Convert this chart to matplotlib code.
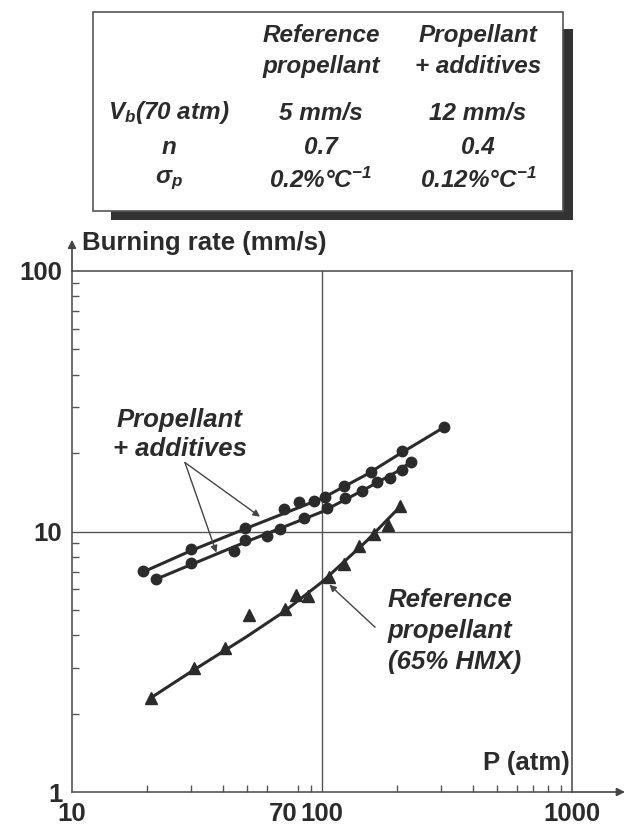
import numpy as np
import matplotlib
matplotlib.use('Agg')
import matplotlib.pyplot as plt
from matplotlib.patches import Rectangle

# ---- data ----
# propellant + additives, upper series (P atm, rate mm/s)
p_add1 = [19.3, 29.8, 49.3, 70.3, 81.1, 92.5, 102.8, 122, 157, 208, 307]
v_add1 = [7.04, 8.57, 10.3, 12.2, 13.0, 13.1, 13.6, 14.9, 16.9, 20.3, 25.1]
# propellant + additives, lower series
p_add2 = [21.7, 30, 44.4, 49.3, 60, 67.8, 84.5, 105, 124, 144, 166, 187, 208, 227]
v_add2 = [6.56, 7.54, 8.42, 9.29, 9.65, 10.2, 11.3, 12.3, 13.4, 14.3, 15.5, 16.1, 17.2, 18.5]
# reference propellant (65% HMX)
p_ref = [20.7, 30.8, 41.0, 51.1, 71.0, 78.5, 87.5, 107, 122, 141, 161, 184, 206]
v_ref = [2.30, 2.98, 3.56, 4.79, 5.02, 5.69, 5.65, 6.70, 7.48, 8.83, 9.77, 10.6, 12.5]

# hand drawn fit curves
fit1_p = [19.3, 30, 50, 100, 150, 200, 307]
fit1_v = [7.0, 8.45, 10.3, 13.4, 16.5, 19.6, 25.1]
fit2_p = [21.7, 30, 50, 100, 150, 200, 227]
fit2_v = [6.56, 7.47, 9.15, 11.9, 14.6, 17.0, 18.5]
fitr_p = [20.7, 30, 50, 70, 100, 150, 206]
fitr_v = [2.30, 2.90, 3.95, 4.9, 6.4, 9.15, 12.5]

# table
col_heads = ['Reference\npropellant', 'Propellant\n+ additives']
row_names = [r'$V_b$(70 atm)', 'n', r'$\sigma_p$']
ref_vals = ['5 mm/s', '0.7', r'0.2%°C$^{-1}$']
add_vals = ['12 mm/s', '0.4', r'0.12%°C$^{-1}$']

x_ticks = [10, 70, 100, 1000]
y_ticks = [1, 10, 100]

ink = '#2b2b2b'
plt.rcParams['font.family'] = ['Liberation Sans', 'DejaVu Sans']
plt.rcParams['mathtext.fontset'] = 'custom'
plt.rcParams['mathtext.it'] = 'Liberation Sans:italic:bold'
plt.rcParams['mathtext.rm'] = 'Liberation Sans:italic:bold'
plt.rcParams['mathtext.bf'] = 'Liberation Sans:italic:bold'

W, H = 629, 826
fig = plt.figure(figsize=(W / 100, H / 100), dpi=100)

# ---- table panel (pixel coords) ----
tb = fig.add_axes([0, 1 - 230 / H, 1, 230 / H])
tb.set_xlim(0, W)
tb.set_ylim(230, 0)
tb.axis('off')
tb.add_patch(Rectangle((111, 29), 462, 191, facecolor='#333333', edgecolor='none'))
tb.add_patch(Rectangle((93, 12), 470, 199, facecolor='white', edgecolor='#555555', lw=1.2))
tfont = dict(fontsize=17.5, fontweight='bold', style='italic', color=ink)
col_x = [321, 478]
for cx, head in zip(col_x, col_heads):
    tb.text(cx, 51, head, ha='center', va='center', linespacing=1.45, **tfont)
rows_y = [113, 147, 180]
for ry, name, a, b in zip(rows_y, row_names, ref_vals, add_vals):
    tb.text(169, ry, name, ha='center', va='center', **tfont)
    tb.text(col_x[0], ry, a, ha='center', va='center', **tfont)
    tb.text(col_x[1], ry, b, ha='center', va='center', **tfont)

# ---- log-log chart ----
left, right, top, bottom = 72, 572, 271, 792
ax = fig.add_axes([left / W, 1 - bottom / H, (right - left) / W, (bottom - top) / H])
ax.set_xscale('log')
ax.set_yscale('log')
ax.set_xlim(10, 1000)
ax.set_ylim(1, 100)

for s in ax.spines.values():
    s.set_color('#555555')
    s.set_linewidth(1.2)
ax.axvline(100, color='#555555', lw=1.0)
ax.axhline(10, color='#555555', lw=1.0)

ax.plot(fit1_p, fit1_v, color=ink, lw=2.2)
ax.plot(fit2_p, fit2_v, color=ink, lw=2.2)
ax.plot(fitr_p, fitr_v, color=ink, lw=2.2)
ax.plot(p_add1, v_add1, 'o', color=ink, ms=7.5)
ax.plot(p_add2, v_add2, 'o', color=ink, ms=7.5)
ax.plot(p_ref, v_ref, '^', color=ink, ms=8)

ax.set_xticks(x_ticks)
ax.set_xticklabels([str(t) for t in x_ticks])
ax.set_yticks(y_ticks)
ax.set_yticklabels([str(t) for t in y_ticks])
ax.tick_params(which='both', direction='in', color='#555555', width=1.0)
ax.tick_params(which='major', length=0, labelsize=18.5, pad=7)
ax.tick_params(which='minor', length=5)
for lab in ax.get_xticklabels() + ax.get_yticklabels():
    lab.set_fontweight('bold')
    lab.set_color(ink)
ax.minorticks_on()
ax.xaxis.set_minor_formatter(matplotlib.ticker.NullFormatter())
ax.yaxis.set_minor_formatter(matplotlib.ticker.NullFormatter())

# axis arrows
ax.annotate('', xy=(0, 1.06), xytext=(0, 1), xycoords='axes fraction',
            arrowprops=dict(arrowstyle='-|>', color='#444444', lw=1.2,
                            mutation_scale=12, shrinkA=0, shrinkB=0))
ax.annotate('', xy=(1.106, 0), xytext=(1, 0), xycoords='axes fraction',
            arrowprops=dict(arrowstyle='-|>', color='#444444', lw=1.2,
                            mutation_scale=12, shrinkA=0, shrinkB=0), annotation_clip=False)

ax.text(0.02, 1.053, 'Burning rate (mm/s)', transform=ax.transAxes, ha='left', va='center',
        fontsize=18.5, fontweight='bold', color=ink, clip_on=False)
ax.text(0.995, 0.055, 'P (atm)', transform=ax.transAxes, ha='right', va='center',
        fontsize=18.5, fontweight='bold', color=ink)

# annotations
ax.text(27, 23.6, 'Propellant\n+ additives', ha='center', va='center', fontsize=18.5,
        fontweight='bold', style='italic', color=ink, linespacing=1.3)
arr = dict(arrowstyle='-|>', color='#444444', lw=1.0, mutation_scale=10,
           shrinkA=0, shrinkB=0)
ax.annotate('', xy=(56.5, 11.4), xytext=(28.3, 18.4), arrowprops=arr)
ax.annotate('', xy=(37.8, 8.3), xytext=(28.3, 18.4), arrowprops=arr)
ax.text(183, 4.15, 'Reference\npropellant\n(65% HMX)', ha='left', va='center', fontsize=18.5,
        fontweight='bold', style='italic', color=ink, linespacing=1.38)
ax.annotate('', xy=(107, 6.25), xytext=(163, 4.29), arrowprops=arr)

fig.savefig('out.png', dpi=100, facecolor='white')
